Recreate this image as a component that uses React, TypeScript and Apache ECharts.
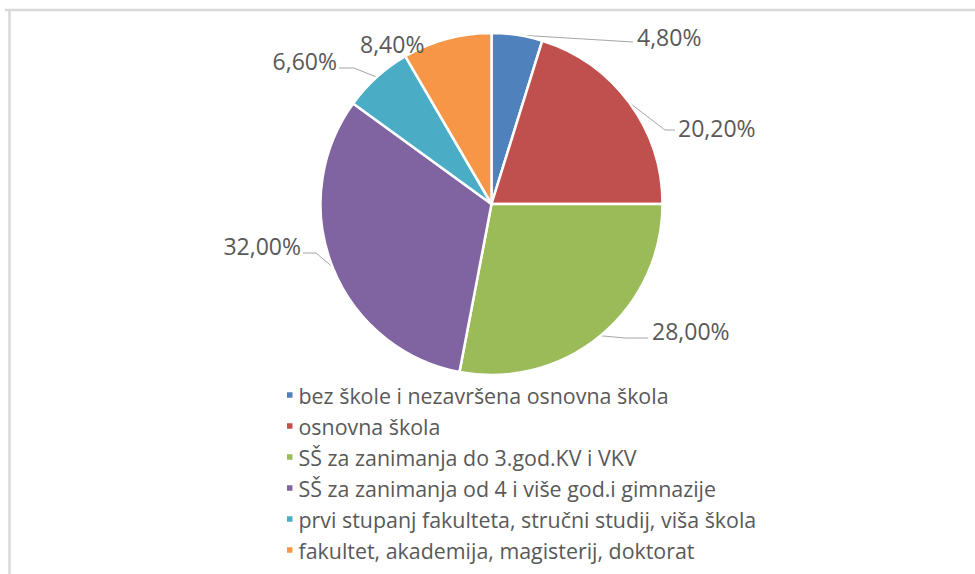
import React, { useEffect, useRef } from "react";
import * as echarts from "echarts";

const categories = [
  "bez škole i nezavršena osnovna škola",
  "osnovna škola",
  "SŠ za zanimanja do 3.god.KV i VKV",
  "SŠ za zanimanja od 4 i više god.i gimnazije",
  "prvi stupanj fakulteta, stručni studij, viša škola",
  "fakultet, akademija, magisterij, doktorat",
];
const values = [4.8, 20.2, 28.0, 32.0, 6.6, 8.4];
const colors = ["#4f81bd", "#c0504d", "#9bbb59", "#8064a2", "#4bacc6", "#f79646"];

// layout of the data labels (Excel-style placement), not data
const CX = 491.5;
const CY = 204;
const R = 171;
const labelPlacement = [
  { x: 637, y: 37, align: "left", elbow: [633, 42], end: [633, 42], line: true },
  { x: 678, y: 128, align: "left", elbow: [665, 130], end: [675, 130], line: true },
  { x: 652, y: 331, align: "left", elbow: [625, 338], end: [648, 338], line: true },
  { x: 301, y: 246, align: "right", elbow: [316, 253], end: [303, 253], line: true },
  { x: 337, y: 61, align: "right", elbow: [354, 68], end: [339, 68], line: true },
  { x: 360, y: 44, align: "left", elbow: [0, 0], end: [0, 0], line: false },
];

const FONT = "'Open Sans', 'Noto Sans', sans-serif";

export default function App() {
  const ref = useRef<HTMLDivElement>(null);
  useEffect(() => {
    if (!ref.current) return;
    const chart = echarts.init(ref.current, undefined, { renderer: "svg" });
    const total = values.reduce((a, b) => a + b, 0);
    const midAngles: number[] = [];
    let acc = 0;
    values.forEach((v) => {
      midAngles.push(((acc + v / 2) / total) * Math.PI * 2);
      acc += v;
    });
    chart.setOption({
      animation: false,
      backgroundColor: "#ffffff",
      color: colors,
      textStyle: { fontFamily: FONT },
      graphic: [
        {
          type: "line",
          shape: { x1: 5, y1: 10, x2: 975, y2: 10 },
          style: { stroke: "#d9d9d9", lineWidth: 2.5 },
          silent: true,
        },
        {
          type: "line",
          shape: { x1: 9.5, y1: 10, x2: 9.5, y2: 574 },
          style: { stroke: "#d9d9d9", lineWidth: 2.5 },
          silent: true,
        },
      ],
      legend: {
        orient: "vertical",
        left: 285,
        top: 379.5,
        padding: 0,
        icon: "rect",
        itemWidth: 7.5,
        itemHeight: 7.5,
        itemGap: 0,
        textStyle: { fontFamily: FONT, fontSize: 21.4, lineHeight: 31, color: "#595959" },
        data: categories,
      },
      series: [
        {
          type: "pie",
          center: [CX, CY],
          radius: R,
          startAngle: 90,
          clockwise: true,
          avoidLabelOverlap: false,
          itemStyle: { borderColor: "#ffffff", borderWidth: 2.5 },
          label: {
            show: true,
            position: "outside",
            fontFamily: FONT,
            fontSize: 23,
            color: "#595959",
            formatter: (p: any) => p.value.toFixed(2).replace(".", ",") + "%",
          },
          labelLine: {
            show: true,
            length: 10,
            length2: 10,
            lineStyle: { color: "#a6a6a6", width: 1 },
          },
          labelLayout: (params: any) => {
            const i = params.dataIndex;
            const lp = labelPlacement[i];
            const a = midAngles[i];
            const edge = [CX + R * Math.sin(a), CY - R * Math.cos(a)];
            const res: any = {
              x: lp.x,
              y: lp.y,
              align: lp.align,
              verticalAlign: "middle",
            };
            res.labelLinePoints = lp.line
              ? [edge, lp.elbow, lp.end]
              : [edge, edge, edge];
            return res;
          },
          data: categories.map((c, i) => ({
            name: c,
            value: values[i],
            labelLine: { show: labelPlacement[i].line },
          })),
        },
      ],
    });
    return () => chart.dispose();
  }, []);
  return (
    <div
      ref={ref}
      style={{ position: "fixed", left: 0, top: 0, width: 975, height: 574 }}
    />
  );
}
